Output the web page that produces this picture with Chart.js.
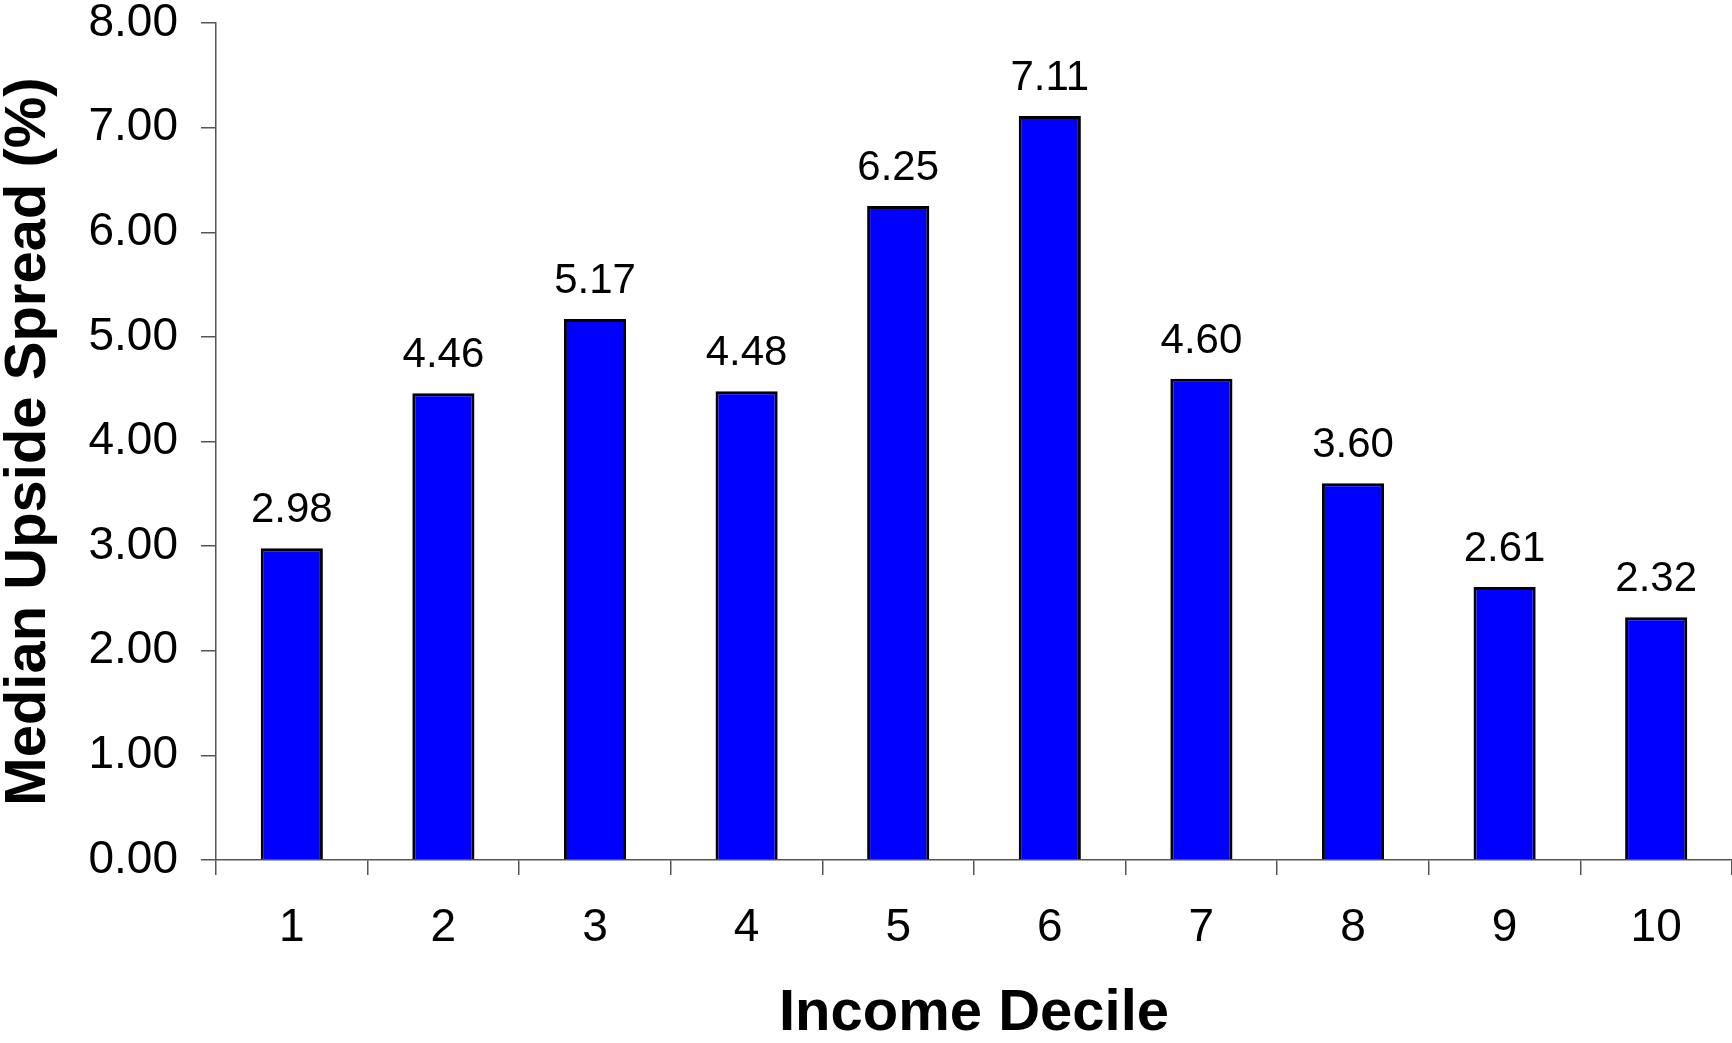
<!DOCTYPE html>
<html>
<head>
<meta charset="utf-8">
<script src="https://cdn.jsdelivr.net/npm/chart.js@4/dist/chart.umd.min.js"></script>
<style>
  html, body { margin: 0; padding: 0; background: #fff; }
  #wrap { width: 1732px; height: 1043px; position: relative; }
</style>
</head>
<body>
<div id="wrap"><canvas id="myChart"></canvas></div>
<script>
// data
var deciles = ["1", "2", "3", "4", "5", "6", "7", "8", "9", "10"];
var spread = [2.98, 4.46, 5.17, 4.48, 6.25, 7.11, 4.60, 3.60, 2.61, 2.32];
var yTicks = [0, 1, 2, 3, 4, 5, 6, 7, 8];

var fam = "'Liberation Sans', Arial, Helvetica, sans-serif";

// labels above the bars
var barLabels = {
	id: 'barLabels',
	afterDatasetsDraw: function (chart) {
		var ctx = chart.ctx;
		var meta = chart.getDatasetMeta(0);
		ctx.save();
		ctx.font = "42px " + fam;
		ctx.fillStyle = '#000';
		ctx.textAlign = 'center';
		ctx.textBaseline = 'alphabetic';
		meta.data.forEach(function (bar, i) {
			ctx.fillText(spread[i].toFixed(2), bar.x, bar.y - 26);
		});
		ctx.restore();
	}
};

var ctx = document.getElementById('myChart').getContext('2d');
var chart = new Chart(ctx, {
	type: 'bar',
	data: {
		labels: deciles,
		datasets: [{
			data: spread,
			backgroundColor: '#0000ff',
			borderColor: '#000',
			borderWidth: 3,
			categoryPercentage: 1,
			barPercentage: 0.41
		}]
	},
	options: {
		responsive: true,
		maintainAspectRatio: false,
		animation: false,
		layout: { padding: 0 },
		plugins: {
			legend: { display: false },
			tooltip: { enabled: false }
		},
		scales: {
			x: {
				offset: true,
				grid: {
					offset: true,
					drawOnChartArea: false,
					drawTicks: true,
					tickLength: 15,
					color: '#555',
					lineWidth: 1.5
				},
				border: { color: '#555', width: 1.5 },
				ticks: {
					color: '#000',
					padding: 30,
					font: { family: fam, size: 46, lineHeight: 1 }
				},
				title: {
					display: true,
					text: 'Income Decile',
					color: '#000',
					padding: 0,
					font: { family: fam, size: 58, weight: 'bold', lineHeight: 1 }
				},
				afterFit: function (scale) { scale.height = 183; }
			},
			y: {
				min: 0,
				max: 8,
				afterBuildTicks: function (scale) {
					scale.ticks = yTicks.map(function (v) { return { value: v }; });
				},
				grid: {
					drawOnChartArea: false,
					drawTicks: true,
					tickLength: 15,
					color: '#555',
					lineWidth: 1.5
				},
				border: { color: '#555', width: 1.5 },
				ticks: {
					color: '#000',
					padding: 23,
					font: { family: fam, size: 46, lineHeight: 1 },
					callback: function (v) { return Number(v).toFixed(2); }
				},
				title: {
					display: true,
					text: 'Median Upside Spread (%)',
					color: '#000',
					padding: 0,
					font: { family: fam, size: 58, weight: 'bold', lineHeight: 1 }
				},
				afterFit: function (scale) {
					scale.width = 216;
					scale.paddingTop = 23;
					scale.paddingBottom = 0;
				}
			}
		}
	},
	plugins: [barLabels]
});
</script>
</body>
</html>
